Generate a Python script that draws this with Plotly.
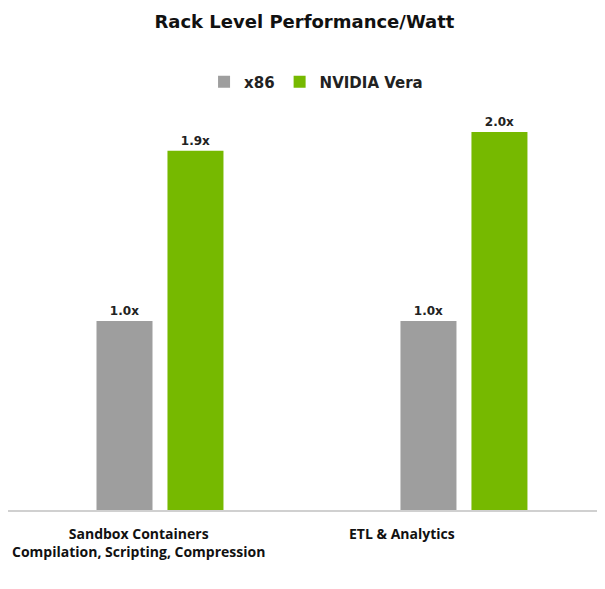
import plotly.graph_objects as go

# Chart data.
categories = [
    "Sandbox Containers<br>Compilation, Scripting, Compression",
    "ETL & Analytics",
]
series_names = ["x86", "NVIDIA Vera"]
x86_values = [1.0, 1.0]
vera_values = [1.9, 2.0]
x86_labels = ["1.0x", "1.0x"]
vera_labels = ["1.9x", "2.0x"]

GRAY = "#9e9e9e"
GREEN = "#76b900"
FONT = "DejaVu Sans"
TICK_FONT = "Open Sans"


def main() -> None:
    """Build and write the performance/watt bar chart."""
    fig = go.Figure()
    for name, values, labels, color in [
        (series_names[0], x86_values, x86_labels, GRAY),
        (series_names[1], vera_values, vera_labels, GREEN),
    ]:
        fig.add_trace(
            go.Bar(
                name=name,
                x=categories,
                y=values,
                text=labels,
                textposition="outside",
                cliponaxis=False,
                textfont=dict(family=FONT, size=12, color="#222222", weight="bold"),
                marker_color=color,
                marker_line_width=0,
            )
        )

    # Category labels sit left of their bar groups in the original,
    # so they are drawn as annotations on the category axis.
    for category, shift in zip(categories, [-21, -62]):
        fig.add_annotation(
            x=category,
            y=0,
            xref="x",
            yref="y",
            text=category,
            showarrow=False,
            xanchor="center",
            yanchor="top",
            xshift=shift,
            yshift=-12,
            align="center",
            font=dict(family=TICK_FONT, size=14, color="#111111", weight="bold"),
        )

    # The page body adds an 8px offset, so margins are shifted to compensate.
    fig.update_layout(
        width=605,
        height=589,
        barmode="group",
        bargap=0.533,
        bargroupgap=0.211,
        plot_bgcolor="white",
        paper_bgcolor="white",
        margin=dict(l=0, r=8, t=105, b=87),
        title=dict(
            text="Rack Level Performance/Watt",
            x=0.49,
            xanchor="center",
            y=0.976,
            yanchor="middle",
            font=dict(family=FONT, size=18, color="#111111", weight="bold"),
        ),
        legend=dict(
            orientation="h",
            x=0.516,
            xanchor="center",
            y=1.078,
            yanchor="middle",
            font=dict(family=FONT, size=15, color="#222222", weight="bold"),
            itemwidth=30,
        ),
        showlegend=True,
    )
    fig.update_xaxes(
        range=[-0.5, 1.464],
        showline=True,
        linecolor="#d0d0d0",
        linewidth=1.5,
        ticks="",
        showticklabels=False,
        fixedrange=True,
    )
    fig.update_yaxes(
        range=[0, 2.1],
        visible=False,
        showgrid=False,
        fixedrange=True,
    )

    fig.write_html("out.html")


if __name__ == "__main__":
    main()
